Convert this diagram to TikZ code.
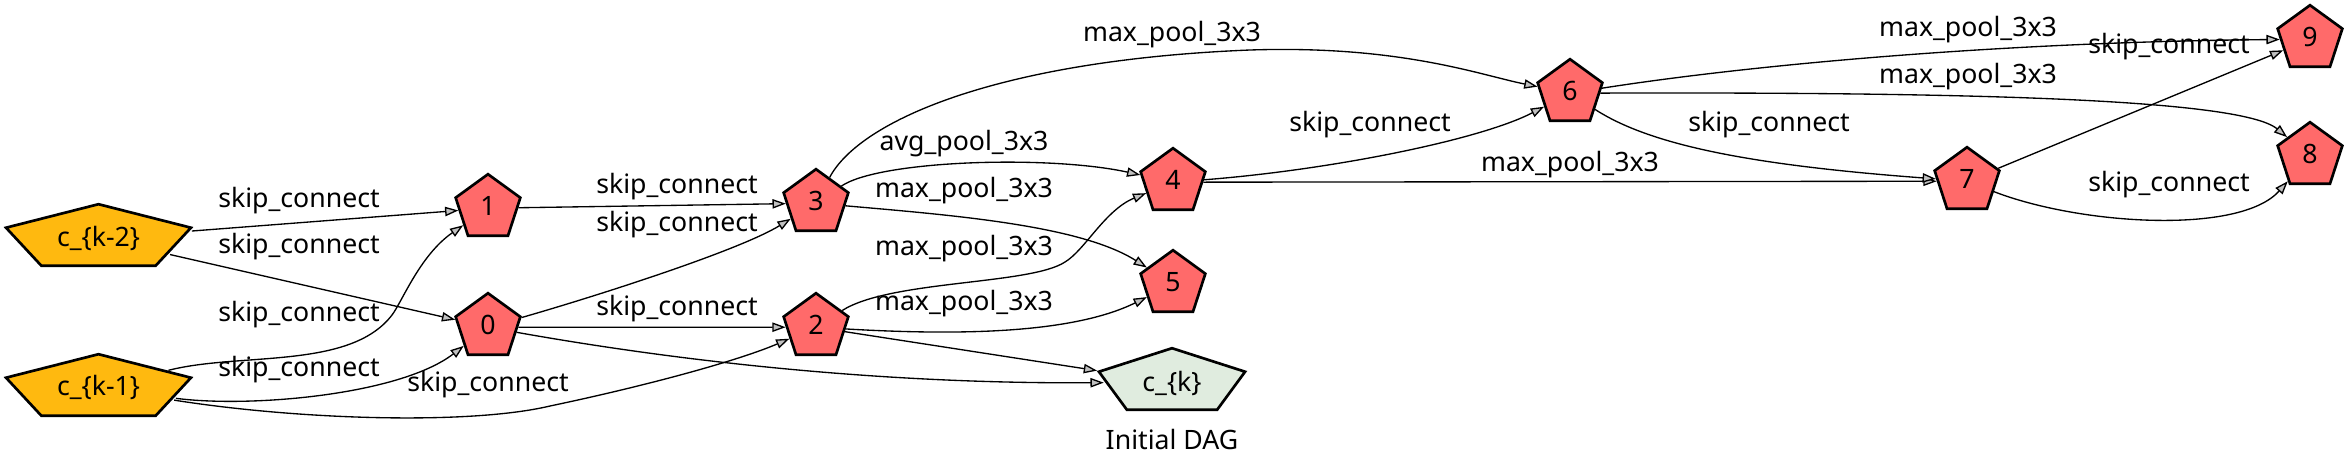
\documentclass[tikz,border=0pt]{standalone}
\usepackage{fontspec}
\setmainfont{Noto Sans}
\usetikzlibrary{shapes.geometric,arrows.meta}
\definecolor{nred}{HTML}{FF6A6A}
\definecolor{norange}{HTML}{FFB90F}
\definecolor{ngreen}{HTML}{E0ECDF}
\definecolor{agray}{HTML}{C0C0C0}
\begin{document}
\begin{tikzpicture}[x=0.75pt,y=-0.75pt,
  every node/.style={font=\fontsize{20}{24}\selectfont},
  pent/.style={regular polygon, regular polygon sides=5, minimum size=51pt,
    inner sep=0pt, draw=black, line width=2pt},
  op/.style={pent, fill=nred, text depth=3pt},
  cin/.style={pent, fill=norange, xscale=2.86, transform shape},
  cout/.style={pent, fill=ngreen, xscale=2.26, transform shape},
  lbl/.style={inner sep=0pt},
  e/.style={draw=black, line width=1pt, -{Triangle[length=10pt,width=7pt,fill=agray]}}
]
\useasboundingbox (0,0) rectangle (2344,469);

% nodes
\node[op] (n1) at (488,208.2) {1};
\node[op] (n0) at (488,327.2) {0};
\node[op] (n3) at (816,203.2) {3};
\node[op] (n2) at (816,327.2) {2};
\node[op] (n4) at (1173,182.2) {4};
\node[op] (n5) at (1173,284.2) {5};
\node[op] (n6) at (1570,93.2) {6};
\node[op] (n7) at (1967,181.2) {7};
\node[op] (n9) at (2310,39.2) {9};
\node[op] (n8) at (2310,156.2) {8};
\begin{scope}[shift={(98.5,238.2)}]
  \node[cin] (km2) at (0,0) {};
\end{scope}
\begin{scope}[shift={(98.5,388.2)}]
  \node[cin] (km1) at (0,0) {};
\end{scope}
\begin{scope}[shift={(1172,382.2)}]
  \node[cout] (ck) at (0,0) {};
\end{scope}
\node[lbl] (km2t) at (98.5,238.5) {c\_\{k-2\}};
\node[lbl] (km1t) at (98.5,387.5) {c\_\{k-1\}};
\node[lbl] (ckt) at (1172,383) {c\_\{k\}};
\node[lbl] (title) at (1172,439) {Initial DAG};

% edges
\draw[e] (km2) -- (n1);
\draw[e] (km2) -- (n0);
\draw[e] (km1) .. controls (240,352) and (350,370) .. (392,315) .. controls (402,302) and (420,255) .. (n1);
\draw[e] (km1) .. controls (250,408) and (400,395) .. (n0);
\draw[e] (km1) .. controls (300,420) and (470,425) .. (550,406) .. controls (650,385) and (740,360) .. (n2);
\draw[e] (n1) -- (n3);
\draw[e] (n0) .. controls (600,295) and (740,250) .. (n3);
\draw[e] (n0) -- (n2);
\draw[e] (n0) .. controls (700,365) and (900,384) .. (ck);
\draw[e] (n3) .. controls (880,160) and (1050,155) .. (n4);
\draw[e] (n3) .. controls (950,215) and (1080,225) .. (n5);
\draw[e] (n3) .. controls (860,120) and (1000,60) .. (1250,50) .. controls (1400,45) and (1480,75) .. (n6);
\draw[e] (n2) .. controls (890,280) and (1030,285) .. (1065,262) .. controls (1085,250) and (1105,210) .. (n4);
\draw[e] (n2) .. controls (950,335) and (1070,335) .. (n5);
\draw[e] (n2) -- (ck);
\draw[e] (n4) .. controls (1330,170) and (1480,140) .. (n6);
\draw[e] (n4) -- (n7);
\draw[e] (n6) .. controls (1750,65) and (2000,42) .. (n9);
\draw[e] (n6) .. controls (1950,92) and (2240,98) .. (n8);
\draw[e] (n6) .. controls (1650,145) and (1750,165) .. (n7);
\draw[e] (n7) -- (n9);
\draw[e] (n7) .. controls (2080,225) and (2240,235) .. (n8);

% edge labels
\node[lbl] (l1) at (299,201) {skip\_connect};
\node[lbl] (l2) at (299,247) {skip\_connect};
\node[lbl] (l3) at (299,315) {skip\_connect};
\node[lbl] (l4) at (299,370) {skip\_connect};
\node[lbl] (l5) at (488,385) {skip\_connect};
\node[lbl] (l6) at (677,187) {skip\_connect};
\node[lbl] (l7) at (677,225) {skip\_connect};
\node[lbl] (l8) at (677,309) {skip\_connect};
\node[lbl] (l9) at (964,144) {avg\_pool\_3x3};
\node[lbl] (l10) at (964,191) {max\_pool\_3x3};
\node[lbl] (l11) at (964,249) {max\_pool\_3x3};
\node[lbl] (l12) at (964,304) {max\_pool\_3x3};
\node[lbl] (l13) at (1172,35) {max\_pool\_3x3};
\node[lbl] (l14) at (1370,125) {skip\_connect};
\node[lbl] (l15) at (1570,165) {max\_pool\_3x3};
\node[lbl] (l16) at (1968,30) {max\_pool\_3x3};
\node[lbl] (l17) at (1968,77) {max\_pool\_3x3};
\node[lbl] (l18) at (1769,125) {skip\_connect};
\node[lbl] (l19) at (2169,47) {skip\_connect};
\node[lbl] (l20) at (2169,185) {skip\_connect};
\end{tikzpicture}
\end{document}
